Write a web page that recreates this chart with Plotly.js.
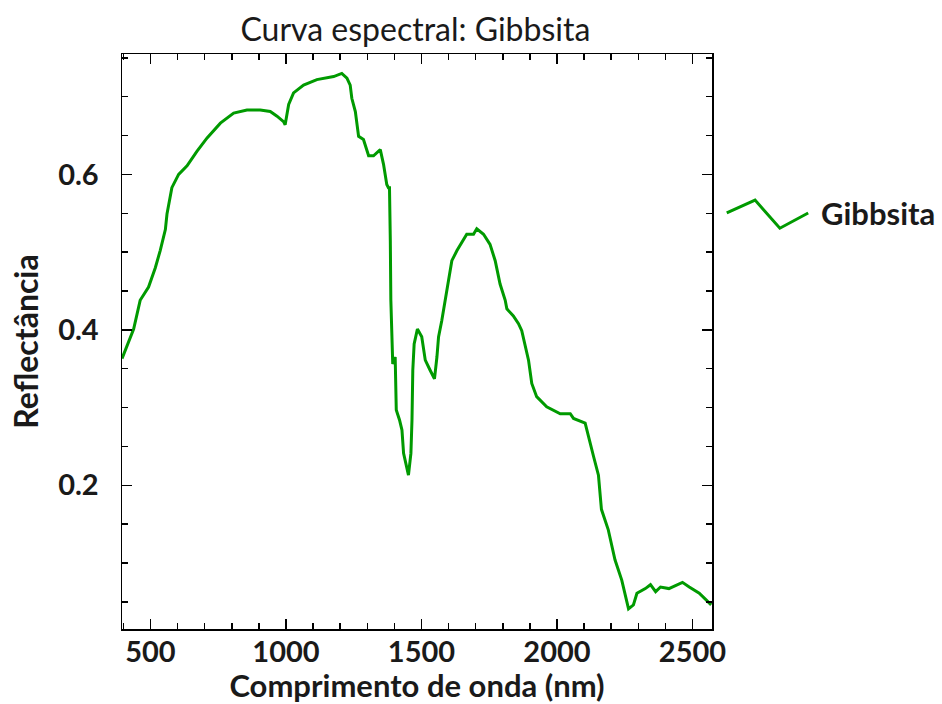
<!DOCTYPE html>
<html>
<head>
<meta charset="utf-8">
<script src="https://cdn.plot.ly/plotly-3.0.1.min.js"></script>
<style>
  html, body { margin: 0; padding: 0; background: #ffffff; }
  #chart { width: 942px; height: 704px; }
</style>
</head>
<body>
<div id="chart"></div>
<script>
// Espectro de reflectância da gibbsita (comprimento de onda em nm)
const wavelength = [
  395, 438, 462, 493, 518, 536, 555, 561, 579, 604, 635, 672, 709, 758, 807, 856,
  905, 942, 967, 991, 997, 1010, 1028, 1065, 1114, 1176, 1206, 1225, 1237, 1243,
  1256, 1268, 1286, 1305, 1323, 1348, 1360, 1372, 1378, 1382, 1385, 1387, 1394,
  1403, 1407, 1419, 1428, 1434, 1452, 1461, 1465, 1468, 1473, 1485, 1501, 1514,
  1532, 1548, 1557, 1563, 1575, 1587, 1600, 1612, 1631, 1649, 1667, 1692, 1704,
  1729, 1753, 1772, 1790, 1809, 1815, 1839, 1858, 1870, 1882, 1895, 1907, 1925,
  1962, 2012, 2049, 2061, 2104, 2116, 2135, 2153, 2164, 2189, 2214, 2239, 2264,
  2282, 2295, 2326, 2345, 2364, 2382, 2413, 2463, 2488, 2525, 2569
];
const reflectance = [
  0.363, 0.401, 0.438, 0.455, 0.480, 0.502, 0.529, 0.549, 0.583, 0.600, 0.611, 0.630,
  0.647, 0.666, 0.679, 0.683, 0.683, 0.681, 0.675, 0.668, 0.664, 0.690, 0.705, 0.715,
  0.722, 0.726, 0.730, 0.724, 0.715, 0.698, 0.681, 0.649, 0.645, 0.624, 0.624, 0.632,
  0.613, 0.587, 0.583, 0.583, 0.515, 0.438, 0.356, 0.365, 0.297, 0.284, 0.271, 0.241,
  0.213, 0.241, 0.284, 0.348, 0.382, 0.401, 0.391, 0.361, 0.348, 0.337, 0.365, 0.391,
  0.412, 0.438, 0.467, 0.489, 0.502, 0.512, 0.523, 0.523, 0.530, 0.523, 0.510, 0.489,
  0.459, 0.438, 0.427, 0.418, 0.408, 0.399, 0.382, 0.361, 0.331, 0.314, 0.301, 0.292,
  0.292, 0.286, 0.280, 0.262, 0.237, 0.213, 0.169, 0.143, 0.104, 0.078, 0.041, 0.046,
  0.061, 0.067, 0.072, 0.063, 0.069, 0.067, 0.075, 0.069, 0.061, 0.046
];
const seriesName = 'Gibbsita';
const xTickVals = [500, 1000, 1500, 2000, 2500];
const yTickVals = [0.2, 0.4, 0.6];

const FONT = 'Lato, "Open Sans", sans-serif';
const GREEN = '#009a00';
const TEXT = '#1a1a1a';

const trace = {
  x: wavelength,
  y: reflectance,
  type: 'scatter',
  mode: 'lines',
  name: seriesName,
  line: { color: GREEN, width: 3 },
  showlegend: false,
  hoverinfo: 'x+y'
};

const axisCommon = {
  showgrid: false,
  zeroline: false,
  showline: true,
  linecolor: '#000000',
  linewidth: 1.5,
  mirror: 'allticks',
  ticks: 'inside',
  ticklen: 10,
  tickwidth: 1.5,
  tickcolor: '#000000',
  tickfont: { family: FONT, size: 29, color: TEXT, weight: 'bold' }
};

const layout = {
  width: 942,
  height: 704,
  paper_bgcolor: '#ffffff',
  plot_bgcolor: '#ffffff',
  margin: { l: 122, r: 230, t: 54, b: 75 },
  title: {
    text: 'Curva espectral: Gibbsita',
    font: { family: FONT, size: 32, color: TEXT },
    x: 0.441, xanchor: 'center',
    y: 0.958, yanchor: 'middle', yref: 'container'
  },
  xaxis: Object.assign({}, axisCommon, {
    range: [395, 2572],
    tickvals: xTickVals,
    ticklabelstandoff: -3,
    minor: { dtick: 100, ticks: 'inside', ticklen: 6, tickwidth: 1.5, tickcolor: '#000000' },
    title: { text: 'Comprimento de onda (nm)', font: { family: FONT, size: 31, color: TEXT, weight: 'bold' }, standoff: 9 }
  }),
  yaxis: Object.assign({}, axisCommon, {
    range: [0.015, 0.755],
    tickvals: yTickVals,
    ticktext: yTickVals.map(v => v.toFixed(1)),
    ticklabelstandoff: 16,
    minor: { dtick: 0.05, ticks: 'inside', ticklen: 6, tickwidth: 1.5, tickcolor: '#000000' },
    title: { text: 'Reflectância', font: { family: FONT, size: 32, color: TEXT, weight: 'bold' }, standoff: 10 }
  }),
  // legend entry: zigzag line sample and series label
  shapes: [{
    type: 'path',
    xref: 'paper', yref: 'paper',
    path: 'M 1.025 0.7235 L 1.073 0.746 L 1.115 0.697 L 1.163 0.7235',
    line: { color: GREEN, width: 3 }
  }],
  annotations: [{
    xref: 'paper', yref: 'paper',
    x: 1.182, y: 0.7235, xanchor: 'left', yanchor: 'middle',
    text: seriesName, showarrow: false,
    font: { family: FONT, size: 31, color: TEXT, weight: 'bold' }
  }]
};

Plotly.newPlot('chart', [trace], layout, { displayModeBar: false, staticPlot: true });
</script>
</body>
</html>
